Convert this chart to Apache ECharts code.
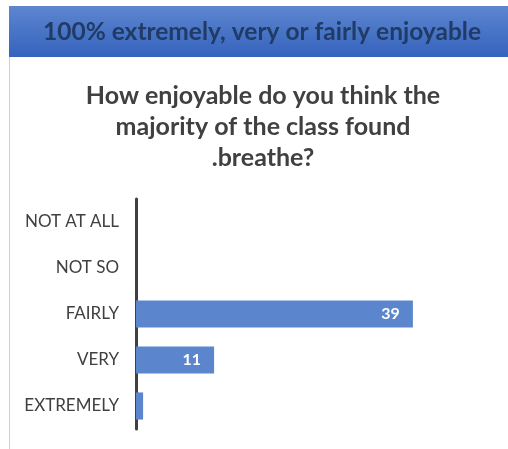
<!DOCTYPE html>
<html><head><meta charset="utf-8">
<script src="https://cdn.jsdelivr.net/npm/echarts@6/dist/echarts.min.js"></script>
<style>html,body{margin:0;padding:0;background:#fff}#c{width:508px;height:449px}</style>
</head><body><div id="c"></div>
<script>
const categories = ['NOT AT ALL', 'NOT SO', 'FAIRLY', 'VERY', 'EXTREMELY'];
const counts = [0, 0, 39, 11, 1];
const headerText = '100% extremely, very or fairly enjoyable';
const titleText = 'How enjoyable do you think the\nmajority of the class found\n.breathe?';

const chart = echarts.init(document.getElementById('c'));
const FONT = 'Lato';
chart.setOption({
  animation: false,
  grid: { left: 136, top: 199, width: 355, height: 230, containLabel: false },
  xAxis: { type: 'value', min: 0, max: 50, show: false },
  yAxis: {
    type: 'category', data: categories, inverse: true,
    axisLine: { show: true, lineStyle: { color: '#404040', width: 3 } },
    axisTick: { show: false },
    axisLabel: { color: '#404040', fontSize: 17, fontFamily: FONT, margin: 17 }
  },
  series: [{
    type: 'bar', data: counts, barCategoryGap: '41%',
    itemStyle: { color: '#5b86cd' },
    label: {
      show: true, position: 'insideRight', distance: 13,
      color: '#ffffff', fontWeight: 'bold', fontSize: 16, fontFamily: FONT,
      formatter: p => (p.value >= 5 ? p.value : '')
    }
  }],
  graphic: [
    { type: 'rect', shape: { x: 9, y: 6, width: 499, height: 51 },
      style: { fill: new echarts.graphic.LinearGradient(0, 0, 0, 1, [
        { offset: 0, color: '#5d86cf' }, { offset: 1, color: '#3563bd' }]) } },
    { type: 'line', shape: { x1: 9.5, y1: 57, x2: 9.5, y2: 449 }, style: { stroke: '#d0d0d0', lineWidth: 1 } },
    { type: 'text', x: 262, y: 32, style: { text: headerText, fill: '#1f3b66', font: 'bold 24.5px ' + FONT, textAlign: 'center', textVerticalAlign: 'middle' } },
    { type: 'text', x: 263, y: 80, style: { text: titleText, fill: '#404040', font: 'bold 25px ' + FONT, textAlign: 'center', lineHeight: 31 } }
  ]
});
</script></body></html>
